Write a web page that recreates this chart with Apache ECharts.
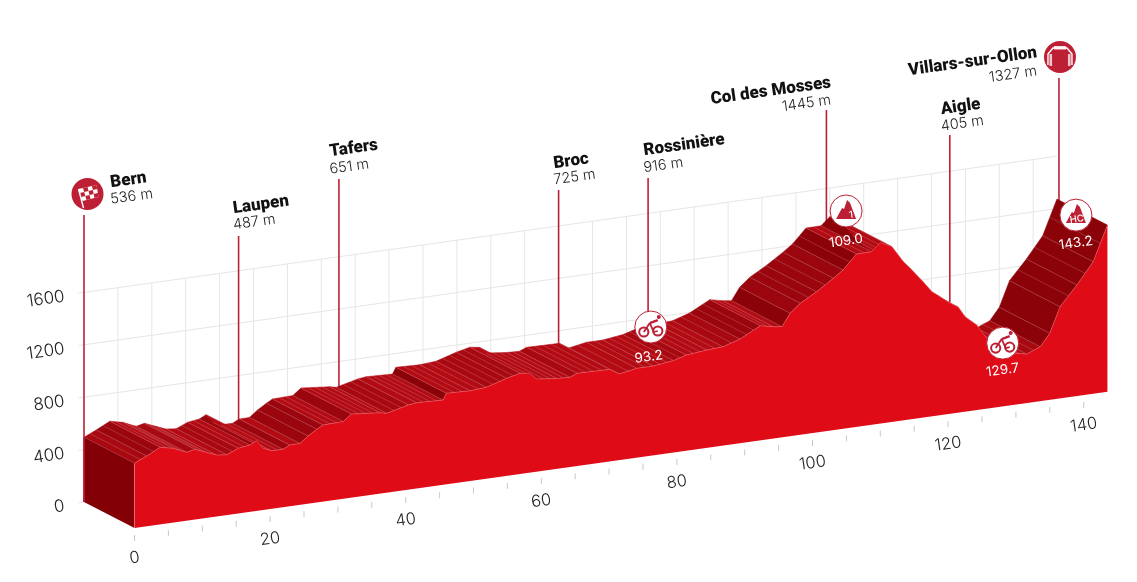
<!DOCTYPE html>
<html>
<head>
<meta charset="utf-8">
<title>Stage profile</title>
<script src="https://cdn.jsdelivr.net/npm/echarts@6/dist/echarts.min.js"></script>
<style>
html, body { margin: 0; padding: 0; background: #fff; }
#chart { width: 1137px; height: 582px; }
</style>
</head>
<body>
<div id="chart"></div>
<script>
// profile
var routeKm = [0, 1.8, 3.8, 5.7, 7.7, 8.9, 10.6, 12.1, 13.6, 15.3, 17, 18, 19, 20.2, 21.9, 22.9, 24.4, 25.6, 26.9, 27.8,
  30.8, 32, 36.2, 37.2, 40.4, 41.6, 45.5, 46, 49.5, 51.9, 54.9, 56.9, 58.3, 59.3, 62.3, 64.2, 65.3, 70.1, 71.5, 74.1,
  76.5, 79.5, 81.4, 84.4, 86.8, 89.3, 92.3, 94.2, 95.5, 96.7, 98.2, 100.6, 103.1, 104.5, 106.5, 108.7, 110, 111.7, 113.4, 114.4,
  116.3, 117.6, 118.8, 120.3, 121.5, 122.5, 124.2, 125.9, 127.7, 129.4, 131.6, 133.6, 135, 136.5, 139, 141.4, 143.5];
var routeElevation = [494, 537, 589, 567, 522, 536, 501, 469, 461, 498, 510, 536, 471, 444, 442, 467, 469, 517, 559, 585,
  589, 638, 618, 606, 647, 655, 647, 695, 689, 698, 745, 769, 758, 708, 690, 685, 708, 703, 658, 682,
  682, 702, 731, 747, 755, 795, 876, 854, 845, 938, 1004, 1075, 1160, 1212, 1320, 1321, 1381, 1338, 1211, 1153,
  1037, 952, 905, 844, 805, 725, 650, 523, 441, 398, 374, 416, 508, 700, 848, 1008, 1273];

var elevationTicks = [0, 400, 800, 1200, 1600];
var kmGrid = [5, 10, 15, 20, 25, 30, 35, 40, 45, 50, 55, 60, 65, 70, 75, 80, 85, 90, 95, 100, 105, 110, 115, 120, 125, 130, 135, 140];
var kmTicks = [0, 5, 10, 15, 20, 25, 30, 35, 40, 45, 50, 55, 60, 65, 70, 75, 80, 85, 90, 95, 100, 105, 110, 115, 120, 125, 130, 135, 140];
var kmLabels = [0, 20, 40, 60, 80, 100, 120, 140];

var stopNames = ['Bern', 'Laupen', 'Tafers', 'Broc', 'Rossinière', 'Col des Mosses', 'Aigle', 'Villars-sur-Ollon'];
var stopHeights = [536, 487, 651, 725, 916, 1445, 405, 1327];
var stopKm = [0, 22.8, 37.6, 70, 83.2, 109.5, 127.7, 143.8];

var markerLabels = ['93.2', '109.0', '129.7', '143.2'];
var markerKm = [83.6, 112.4, 135.5, 146.3];
var markerElevation = [730, 1407, 231, 1130];
var markerIcons = ['bike', 'climb1', 'bike', 'climbHC'];

// pole top in px, label offsets from it
var stopLayout = [
  { top: 215, dx: 26.5, name: -32, height: -15.5, align: 'left' },
  { top: 236, dx: -5.5, name: -27, height: -11, align: 'left' },
  { top: 179, dx: -9.3, name: -27, height: -9.5, align: 'left' },
  { top: 190, dx: -5, name: -26, height: -10, align: 'left' },
  { top: 178, dx: -4.5, name: -27, height: -10, align: 'left' },
  { top: 110, dx: 4.5, name: -27, height: -10, align: 'right' },
  { top: 135, dx: -9, name: -25, height: -8.5, align: 'left' },
  { top: 78, dx: -22, name: -25, height: -7, align: 'right' }
];
var markerTextOffset = [[-2, 30], [0, 30], [0, 27], [0, 28]];

var SLANT = 0.14;
var DEPTH_X = 50.5;
var DEPTH_Y = 26;
var TILT = Math.atan(SLANT);
var POLE = '#bd2035';
var FRONT = '#df0b17';
var WALL = '#820006';
var NAME_FONT = '900 17px Roboto, sans-serif';
var LIGHT_FONT = '300 14.5px Inter, sans-serif';

// back plane point, sheared upward along km; front=true moves it to the front edge
function project(api, km, elev, front) {
  var p = api.coord([km, elev]);
  var o = api.coord([0, 0]);
  return [p[0] + (front ? DEPTH_X : 0), p[1] - (p[0] - o[0]) * SLANT + (front ? DEPTH_Y : 0)];
}

function segLine(a, b, color, width) {
  return { type: 'line', shape: { x1: a[0], y1: a[1], x2: b[0], y2: b[1] }, style: { stroke: color, lineWidth: width } };
}

function slopeColor(g) {
  if (g < 10) return '#b30b14';
  if (g < 25) return '#a80810';
  if (g < 45) return '#9b050d';
  return '#8c0209';
}

function renderGridH(params, api) {
  var v = api.value(1);
  return segLine(project(api, -0.8, v), project(api, routeKm[routeKm.length - 1], v), '#e6e6e6', 1);
}

function renderGridV(params, api) {
  var km = api.value(0);
  return segLine(project(api, km, 0), project(api, km, 1600), '#e6e6e6', 1);
}

function renderPole(params, api) {
  var i = params.dataIndex;
  var base = project(api, stopKm[i], 0);
  return segLine(base, [base[0], stopLayout[i].top], POLE, 1.6);
}

function renderStrip(params, api) {
  var i = params.dataIndex;
  if (i === routeKm.length - 1) return null;
  var a = project(api, routeKm[i], routeElevation[i]);
  var b = project(api, routeKm[i + 1], routeElevation[i + 1]);
  var c = project(api, routeKm[i + 1], routeElevation[i + 1], true);
  var d = project(api, routeKm[i], routeElevation[i], true);
  var dkm = routeKm[i + 1] - routeKm[i];
  var col = slopeColor((routeElevation[i + 1] - routeElevation[i]) / dkm);
  var kids = [{ type: 'polygon', shape: { points: [a, b, c, d] }, style: { fill: col, stroke: col, lineWidth: 0.5 } }];
  // fine hatching across the road surface, about one line per km
  var n = Math.max(1, Math.round(dkm / 1.1));
  for (var k = 0; k < n; k++) {
    var t = k / n;
    kids.push(segLine(
      [a[0] + (b[0] - a[0]) * t, a[1] + (b[1] - a[1]) * t],
      [d[0] + (c[0] - d[0]) * t, d[1] + (c[1] - d[1]) * t],
      'rgba(255,255,255,0.28)', 0.6));
  }
  return { type: 'group', children: kids };
}

function renderBody(params, api) {
  var last = routeKm.length - 1;
  var top = routeKm.map(function (km, i) { return project(api, km, routeElevation[i], true); });
  var baseEnd = project(api, routeKm[last], 0, true);
  var baseStart = project(api, 0, 0, true);
  var wall = [project(api, 0, routeElevation[0]), top[0], baseStart, project(api, 0, 0)];
  return {
    type: 'group',
    children: [
      { type: 'polygon', shape: { points: wall }, style: { fill: WALL } },
      { type: 'polygon', shape: { points: top.concat([baseEnd, baseStart]) }, style: { fill: FRONT } },
      { type: 'polyline', shape: { points: top }, style: { fill: 'none', stroke: 'rgba(255,170,170,0.55)', lineWidth: 0.6 } },
      segLine(top[0], baseStart, 'rgba(255,170,170,0.6)', 0.6),
      segLine(project(api, 0, routeElevation[0]), project(api, 0, 0), POLE, 1.6)
    ]
  };
}

function renderKmTick(params, api) {
  var p = project(api, api.value(0), 0, true);
  return segLine([p[0], p[1] + 7], [p[0], p[1] + 13], '#c8c8c8', 1);
}

function renderKmLabel(params, api) {
  var km = api.value(0);
  var p = project(api, km, 0, true);
  return {
    type: 'text', x: p[0], y: p[1] + 30, rotation: TILT,
    style: { text: String(km), fill: '#222', font: '300 16.5px Inter, sans-serif', align: 'center', verticalAlign: 'middle' }
  };
}

function flagIcon(cx, cy) {
  var out = [{ type: 'circle', shape: { cx: cx, cy: cy, r: 16 }, style: { fill: POLE } }];
  var q = [[-9, -5], [9, -9], [11, 3], [-5, 7]];
  function at(u, v) {
    var tx = q[0][0] + (q[1][0] - q[0][0]) * u, ty = q[0][1] + (q[1][1] - q[0][1]) * u;
    var bx = q[3][0] + (q[2][0] - q[3][0]) * u, by = q[3][1] + (q[2][1] - q[3][1]) * u;
    return [cx + tx + (bx - tx) * v, cy + ty + (by - ty) * v];
  }
  out.push({ type: 'polygon', shape: { points: [at(0, 0), at(1, 0), at(1, 1), at(0, 1)] }, style: { fill: '#fff' } });
  for (var r = 0; r < 3; r++) {
    for (var c = 0; c < 4; c++) {
      if ((r + c) % 2) {
        out.push({ type: 'polygon', shape: { points: [at(c / 4, r / 3), at((c + 1) / 4, r / 3), at((c + 1) / 4, (r + 1) / 3), at(c / 4, (r + 1) / 3)] }, style: { fill: POLE } });
      }
    }
  }
  out.push(segLine([cx - 9, cy - 5], [cx - 4, cy + 14], '#fff', 1.4));
  return out;
}

function archIcon(cx, cy) {
  var pts = [[-12, 8], [-12, -3], [-7, -9], [7, -9], [12, -3], [12, 8]].map(function (p) { return [cx + p[0], cy + p[1]]; });
  return [
    { type: 'circle', shape: { cx: cx, cy: cy, r: 16 }, style: { fill: POLE } },
    { type: 'polyline', shape: { points: pts }, style: { fill: 'none', stroke: '#fff', lineWidth: 1.4 } },
    { type: 'rect', shape: { x: cx - 6, y: cy - 11, width: 12, height: 3.5 }, style: { fill: 'rgba(255,255,255,0.85)' } },
    { type: 'rect', shape: { x: cx - 10.5, y: cy - 3, width: 2.6, height: 12 }, style: { fill: 'rgba(255,255,255,0.75)' } },
    { type: 'rect', shape: { x: cx + 8, y: cy - 3, width: 2.6, height: 12 }, style: { fill: 'rgba(255,255,255,0.75)' } }
  ];
}

function bikeIcon(cx, cy) {
  function P(x, y) { return [cx + x, cy + y]; }
  return [
    { type: 'circle', shape: { cx: cx - 7, cy: cy + 5, r: 4.6 }, style: { fill: 'none', stroke: POLE, lineWidth: 2 } },
    { type: 'circle', shape: { cx: cx + 7, cy: cy + 4, r: 4.6 }, style: { fill: 'none', stroke: POLE, lineWidth: 2 } },
    segLine(P(-7, 5), P(-1, -4), POLE, 1.8),
    segLine(P(-1, -4), P(3, 5), POLE, 1.8),
    segLine(P(-1, -4), P(7, -7), POLE, 2.4),
    segLine(P(3, 5), P(7, 4), POLE, 1.6),
    { type: 'circle', shape: { cx: cx + 8, cy: cy - 10, r: 2 }, style: { fill: POLE } }
  ];
}

function climbIcon(cx, cy, tag) {
  var pts = [[-10, 8], [-4, -3], [-2, -2], [1, -11], [4, -8], [10, 8]].map(function (p) { return [cx + p[0], cy + p[1]]; });
  return [
    { type: 'polygon', shape: { points: pts }, style: { fill: POLE } },
    {
      type: 'text', x: cx + (tag === 'HC' ? 1 : 5), y: cy + 4, rotation: TILT,
      style: { text: tag, fill: '#fff', font: '500 9.5px Inter, sans-serif', align: 'center', verticalAlign: 'middle' }
    }
  ];
}

function renderStop(params, api) {
  var i = params.dataIndex;
  var pole = project(api, stopKm[i], 0);
  var l = stopLayout[i];
  var x = pole[0] + l.dx;
  var kids = [
    {
      type: 'text', x: x, y: l.top + l.name, rotation: TILT,
      style: { text: stopNames[i], fill: '#111', font: NAME_FONT, align: l.align, verticalAlign: 'middle' }
    },
    {
      type: 'text', x: x, y: l.top + l.height, rotation: TILT,
      style: { text: stopHeights[i] + ' m', fill: '#222', font: LIGHT_FONT, align: l.align, verticalAlign: 'middle' }
    }
  ];
  if (i === 0) kids = kids.concat(flagIcon(pole[0] + 3.5, 194));
  if (i === stopNames.length - 1) kids = kids.concat(archIcon(pole[0] + 1, 57));
  return { type: 'group', children: kids };
}

function renderMarker(params, api) {
  var i = params.dataIndex;
  var p = project(api, markerKm[i], markerElevation[i]);
  var kids = [
    { type: 'circle', shape: { cx: p[0], cy: p[1], r: 16 }, style: { fill: '#fff', stroke: POLE, lineWidth: 1 } }
  ];
  var kind = markerIcons[i];
  if (kind === 'bike') kids = kids.concat(bikeIcon(p[0], p[1]));
  if (kind === 'climb1') kids = kids.concat(climbIcon(p[0], p[1], '1'));
  if (kind === 'climbHC') kids = kids.concat(climbIcon(p[0], p[1], 'HC'));
  kids.push({
    type: 'text', x: p[0] + markerTextOffset[i][0], y: p[1] + markerTextOffset[i][1], rotation: TILT,
    style: { text: markerLabels[i], fill: '#fff', font: '400 13.5px Inter, sans-serif', align: 'center', verticalAlign: 'middle' }
  });
  return { type: 'group', children: kids };
}

function customSeries(data, fn, z) {
  return {
    type: 'custom', coordinateSystem: 'cartesian2d', data: data, renderItem: fn, z: z,
    silent: true, clip: false, animation: false, encode: { x: 0, y: 1 }
  };
}

function pairs(xs, ys) { return xs.map(function (x, i) { return [x, ys[i]]; }); }

var chart = echarts.init(document.getElementById('chart'));
var option = {
  animation: false,
  backgroundColor: '#fff',
  grid: { left: 84, width: 1017, bottom: 80, height: 209.6 },
  xAxis: { type: 'value', min: 0, max: 150, show: false },
  yAxis: {
    type: 'value', min: 0, max: 1600, interval: 400,
    axisLine: { show: false }, axisTick: { show: false }, splitLine: { show: false },
    axisLabel: {
      margin: 20, rotate: 8, color: '#222', fontFamily: 'Inter', fontWeight: 300, fontSize: 17,
      verticalAlign: 'top', lineHeight: 8,
      formatter: function (v) { return String(v); }
    }
  },
  series: [
    customSeries(elevationTicks.map(function (v) { return [0, v]; }), renderGridH, 1),
    customSeries(kmGrid.map(function (k) { return [k, 0]; }), renderGridV, 1),
    customSeries(stopKm.map(function (k) { return [k, 0]; }), renderPole, 2),
    customSeries(pairs(routeKm, routeElevation), renderStrip, 3),
    customSeries([[0, 0]], renderBody, 4),
    customSeries(kmTicks.map(function (k) { return [k, 0]; }), renderKmTick, 5),
    customSeries(kmLabels.map(function (k) { return [k, 0]; }), renderKmLabel, 5),
    customSeries(stopKm.map(function (k) { return [k, 0]; }), renderStop, 6),
    customSeries(markerKm.map(function (k, i) { return [k, markerElevation[i]]; }), renderMarker, 7)
  ]
};
chart.setOption(option);
</script>
</body>
</html>
